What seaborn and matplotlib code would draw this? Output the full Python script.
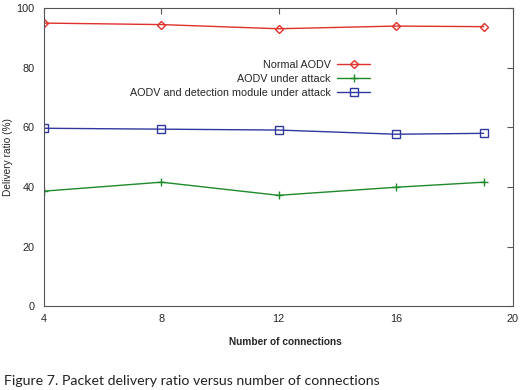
import numpy as np
import pandas as pd
import matplotlib
matplotlib.use("Agg")
import matplotlib.pyplot as plt
import seaborn as sns

connections = [4, 8, 12, 16, 19]
normal_aodv = [95.0, 94.5, 93.1, 94.0, 93.8]
aodv_attack = [38.6, 41.6, 37.2, 39.9, 41.6]
aodv_detection = [59.7, 59.4, 59.1, 57.7, 58.0]

series_names = ["Normal AODV", "AODV under attack", "AODV and detection module under attack"]
series_colors = ["#e0302a", "#1f8a2a", "#3038a0"]
series_markers = ["D", "+", "s"]

sns.set_style("white")
plt.rcParams["font.family"] = ["Liberation Sans", "DejaVu Sans"]

fig = plt.figure(figsize=(5.24, 3.90), dpi=100)
ax = fig.add_axes([0.084, 0.215, 0.895, 0.764])

for name, values, color, marker in zip(series_names,
                                       [normal_aodv, aodv_attack, aodv_detection],
                                       series_colors, series_markers):
    df = pd.DataFrame({"x": connections, "y": values})
    size = 4 if marker == "D" else 6
    sns.lineplot(
        data=df, x="x", y="y", ax=ax, color=color, linewidth=1.0,
        marker=marker, markersize=size, markerfacecolor="none",
        markeredgecolor=color, markeredgewidth=1.0, label=name
    )

ax.set_xlim(4, 20)
ax.set_ylim(0, 100)
ax.set_xticks([4, 8, 12, 16, 20])
ax.set_yticks([0, 20, 40, 60, 80, 100])
ax.tick_params(axis="both", direction="in", length=4, labelsize=7.8,
               top=True, right=True, color="#555555")
ax.tick_params(axis="y", pad=7)
ax.tick_params(axis="x", pad=6)
for spine in ax.spines.values():
    spine.set_color("#555555")
    spine.set_linewidth(0.8)

ax.set_xlabel("Number of connections", fontsize=7.3, fontweight="bold")
ax.xaxis.set_label_coords(0.515, -0.105)
ax.set_ylabel("Delivery ratio (%)", fontsize=7.3)
ax.yaxis.set_label_coords(-0.066, 0.5)

ax.legend(loc="upper right", bbox_to_anchor=(0.715, 0.86), frameon=False,
          markerfirst=False, fontsize=7.75, handlelength=3.0,
          labelspacing=0.4, handletextpad=0.6)

fig.text(0.008, 0.012, "Figure 7. Packet delivery ratio versus number of connections",
         fontsize=10.2, family=["Lato", "DejaVu Sans"], color="#222222")

fig.savefig("out.png", dpi=100)
